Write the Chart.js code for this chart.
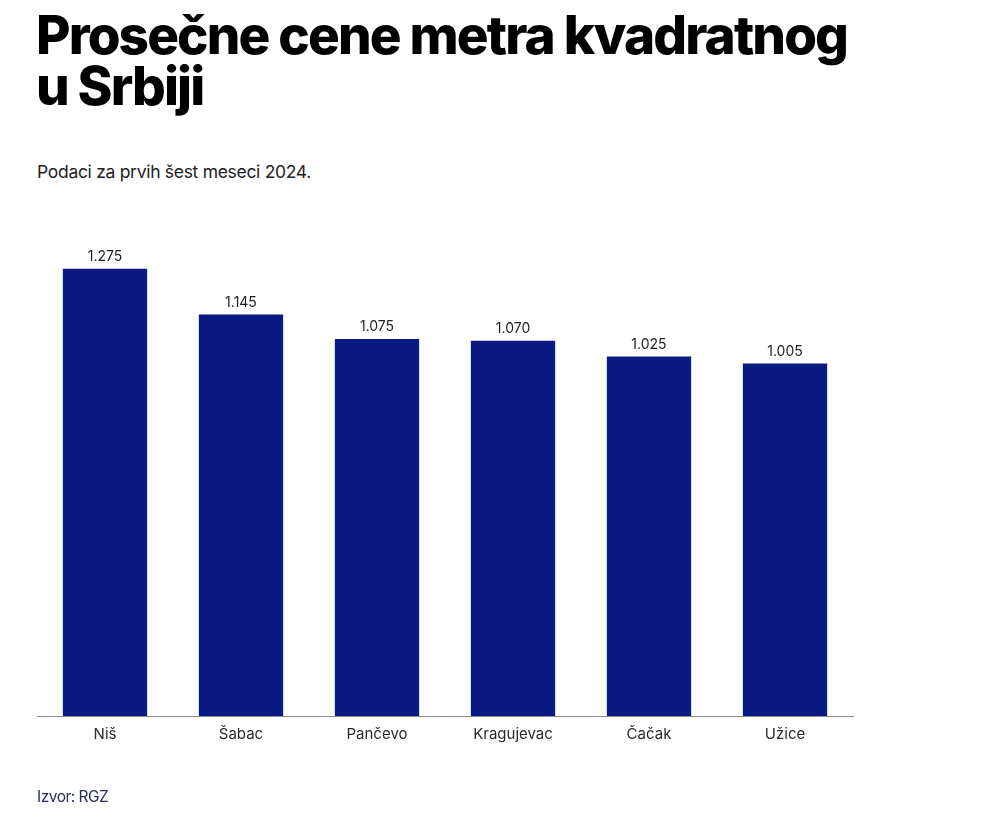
<!DOCTYPE html>
<html>
<head>
<meta charset="utf-8">
<script src="https://cdn.jsdelivr.net/npm/chart.js@4"></script>
<style>
  html, body { margin: 0; padding: 0; background: #fff; }
  body { width: 1000px; height: 821px; position: relative; overflow: hidden; font-family: Inter, "Noto Sans", sans-serif; }
  #title { position: absolute; left: 36px; top: 10px; margin: 0; font-size: 53px; line-height: 51px; font-weight: 800; letter-spacing: -1.85px; color: #000; }
  #subtitle { position: absolute; left: 37px; top: 161px; margin: 0; font-size: 17.5px; letter-spacing: -0.3px; color: #222; }
  #source { position: absolute; left: 37px; top: 787px; margin: 0; font-size: 15.5px; letter-spacing: -0.5px; color: #2a2f5a; }
  #wrap { position: absolute; left: 0; top: 0; width: 1000px; height: 821px; }
</style>
</head>
<body>
<h1 id="title">Prosečne cene metra kvadratnog<br>u Srbiji</h1>
<p id="subtitle">Podaci za prvih šest meseci 2024.</p>
<div id="wrap"><canvas id="myChart"></canvas></div>
<p id="source">Izvor: RGZ</p>
<script>
// Data (EUR per m2)
const cities = ['Niš', 'Šabac', 'Pančevo', 'Kragujevac', 'Čačak', 'Užice'];
const prices = [1275, 1145, 1075, 1070, 1025, 1005];

// Serbian style thousands separator: 1.275
function fmt(v) {
  return v.toLocaleString('de-DE');
}

// Draw the value above each bar
const valueLabels = {
  id: 'valueLabels',
  afterDatasetsDraw(chart) {
    const ctx = chart.ctx;
    const meta = chart.getDatasetMeta(0);
    ctx.save();
    ctx.font = '14px Inter, "Noto Sans", sans-serif';
    ctx.fillStyle = '#222';
    ctx.textAlign = 'center';
    ctx.textBaseline = 'bottom';
    meta.data.forEach((bar, i) => {
      ctx.fillText(fmt(chart.data.datasets[0].data[i]), bar.x, bar.y - 5);
    });
    ctx.restore();
  }
};

const ctx = document.getElementById('myChart').getContext('2d');
const myChart = new Chart(ctx, {
  type: 'bar',
  data: {
    labels: cities,
    datasets: [{
      data: prices,
      backgroundColor: '#0b1a82',
      categoryPercentage: 1,
      barPercentage: 0.62
    }]
  },
  options: {
    responsive: true,
    maintainAspectRatio: false,
    animation: false,
    layout: { padding: { left: 37, right: 147, top: 225, bottom: 0 } },
    plugins: {
      legend: { display: false },
      tooltip: { enabled: false }
    },
    scales: {
      x: {
        grid: { display: false, drawTicks: false },
        border: { display: true, color: '#8a8a8a', width: 1 },
        ticks: {
          color: '#2a2a2a',
          padding: 9,
          font: { family: 'Inter, "Noto Sans", sans-serif', size: 15 }
        },
        afterFit(scale) { scale.height = 105; }
      },
      y: {
        display: false,
        min: 0,
        max: 1400
      }
    }
  },
  plugins: [valueLabels]
});
</script>
</body>
</html>
